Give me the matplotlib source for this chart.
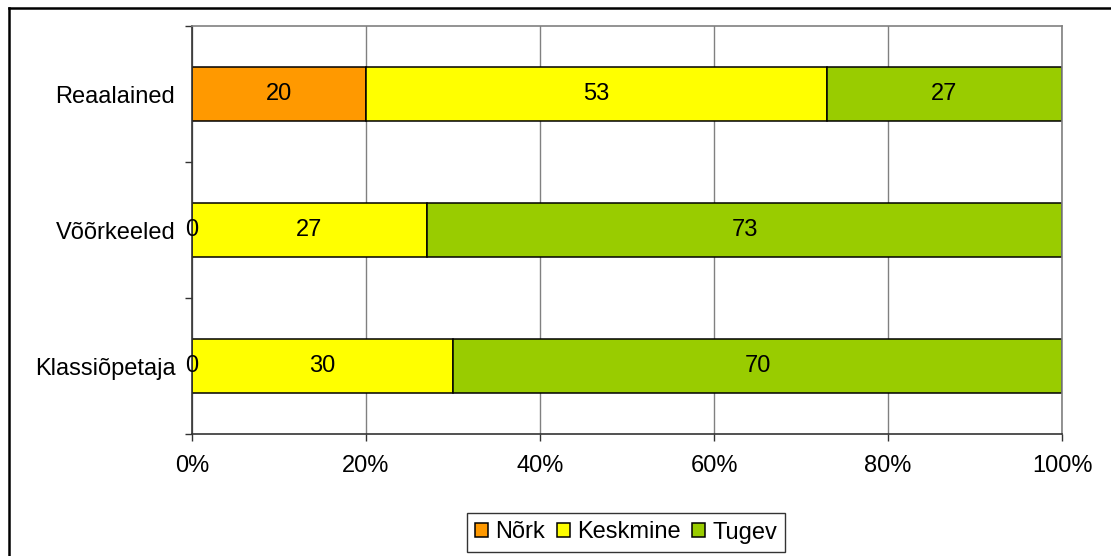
import numpy as np
import matplotlib.pyplot as plt
from matplotlib.lines import Line2D
from matplotlib.ticker import FixedLocator, FuncFormatter

plt.rcParams["font.family"] = ["Liberation Sans", "DejaVu Sans"]
fontsize = 17

# data
categories = ["Reaalained", "Võõrkeeled", "Klassiõpetaja"]
series_names = ["Nõrk", "Keskmine", "Tugev"]
nork = [20, 0, 0]
keskmine = [53, 27, 30]
tugev = [27, 73, 70]
x_ticks = [0, 20, 40, 60, 80, 100]

colors = ["#FF9900", "#FFFF00", "#99CC00"]

fig = plt.figure(figsize=(11.11, 5.56), dpi=100)
ax = fig.add_axes([192 / 1111, 1 - 434 / 556, 870 / 1111, 408 / 556])

y = np.arange(len(categories))
left = np.zeros(len(categories))
for name, vals, col in zip(series_names, [nork, keskmine, tugev], colors):
    bars = ax.barh(y, vals, left=left, height=0.4, color=col,
                   edgecolor="black", linewidth=1.1, label=name, zorder=2)
    txts = ax.bar_label(bars, labels=[str(v) for v in vals], label_type="center",
                        fontsize=fontsize, color="black")
    for t in txts:
        t.set_zorder(5)
    left += np.array(vals)

ax.set_xlim(0, 100)
ax.set_ylim(2.5, -0.5)
ax.xaxis.set_major_locator(FixedLocator(x_ticks))
ax.xaxis.set_major_formatter(FuncFormatter(lambda v, p: f"{v:.0f}%"))
ax.grid(axis="x", color="#808080", lw=1.0, zorder=0)
ax.set_axisbelow(True)

ax.set_yticks(y)
ax.set_yticklabels(categories)
ax.yaxis.set_minor_locator(FixedLocator([-0.5, 0.5, 1.5, 2.5]))
ax.tick_params(axis="y", which="major", length=0, pad=12, labelsize=fontsize)
ax.tick_params(axis="y", which="minor", length=5, width=1.0, color="#333333")
ax.tick_params(axis="x", which="major", length=5, width=1.0, color="#333333",
               pad=10, labelsize=fontsize)

for s in ["top", "right"]:
    ax.spines[s].set_color("#808080")
    ax.spines[s].set_linewidth(1.2)
for s in ["left", "bottom"]:
    ax.spines[s].set_color("#333333")
    ax.spines[s].set_linewidth(1.2)

leg = fig.legend(loc="center", bbox_to_anchor=(626 / 1111, 1 - 532.5 / 556), ncol=3,
                 fontsize=fontsize, frameon=True, fancybox=False,
                 handlelength=0.55, handleheight=0.55, handletextpad=0.3,
                 columnspacing=0.5, borderpad=0.35, borderaxespad=0)
leg.get_frame().set_edgecolor("black")
leg.get_frame().set_linewidth(1.0)

# outer chart border (only left and top are visible in the crop)
fig.add_artist(Line2D([8.5 / 1111, 8.5 / 1111], [0, 1 - 7.5 / 556],
                      transform=fig.transFigure, color="black", lw=1.8))
fig.add_artist(Line2D([8.5 / 1111, 1], [1 - 7.5 / 556, 1 - 7.5 / 556],
                      transform=fig.transFigure, color="black", lw=1.8))

fig.savefig("out.png", dpi=100)
